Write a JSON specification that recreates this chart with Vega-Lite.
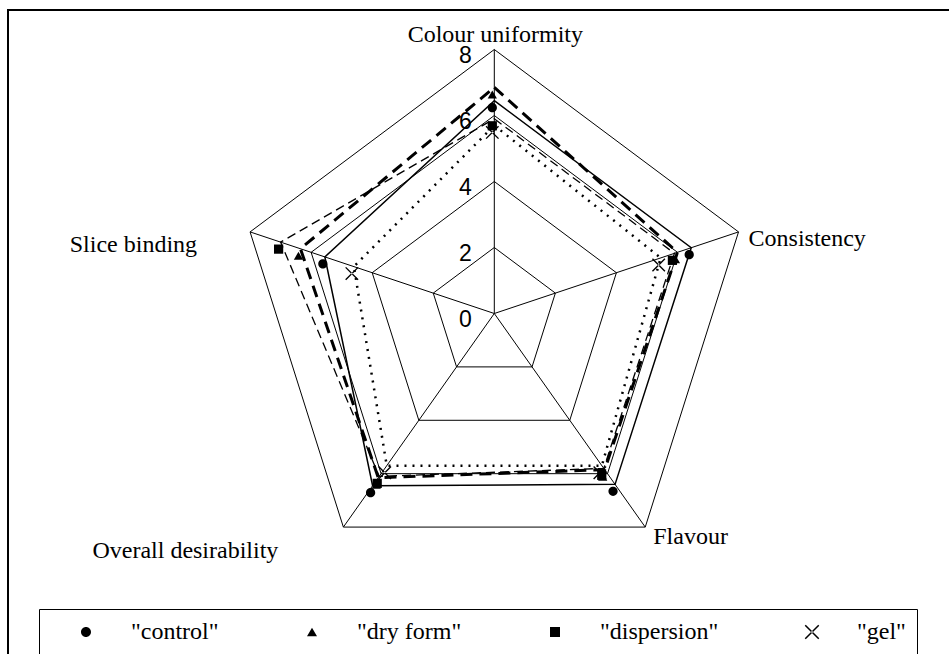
{
  "$schema": "https://vega.github.io/schema/vega-lite/v6.json",
  "width": 960,
  "height": 660,
  "autosize": {"type": "none"},
  "padding": {"left": 8, "top": 10, "right": -19, "bottom": -16},
  "background": "white",
  "config": {"view": {"stroke": "black", "strokeWidth": 2}},
  "datasets": {
    "axes": [
      {"axis": "Colour uniformity", "order": 0},
      {"axis": "Consistency", "order": 1},
      {"axis": "Flavour", "order": 2},
      {"axis": "Overall desirability", "order": 3},
      {"axis": "Slice binding", "order": 4}
    ],
    "rings": [
      {"level": 2, "axis": "Colour uniformity"}, {"level": 2, "axis": "Consistency"}, {"level": 2, "axis": "Flavour"}, {"level": 2, "axis": "Overall desirability"}, {"level": 2, "axis": "Slice binding"},
      {"level": 4, "axis": "Colour uniformity"}, {"level": 4, "axis": "Consistency"}, {"level": 4, "axis": "Flavour"}, {"level": 4, "axis": "Overall desirability"}, {"level": 4, "axis": "Slice binding"},
      {"level": 6, "axis": "Colour uniformity"}, {"level": 6, "axis": "Consistency"}, {"level": 6, "axis": "Flavour"}, {"level": 6, "axis": "Overall desirability"}, {"level": 6, "axis": "Slice binding"},
      {"level": 8, "axis": "Colour uniformity"}, {"level": 8, "axis": "Consistency"}, {"level": 8, "axis": "Flavour"}, {"level": 8, "axis": "Overall desirability"}, {"level": 8, "axis": "Slice binding"}
    ],
    "scalevals": [{"level": 0}, {"level": 2}, {"level": 4}, {"level": 6}, {"level": 8}],
    "scores": [
      {"series": "control", "axis": "Colour uniformity", "value": 6.45},
      {"series": "control", "axis": "Consistency", "value": 6.45},
      {"series": "control", "axis": "Flavour", "value": 6.4},
      {"series": "control", "axis": "Overall desirability", "value": 6.45},
      {"series": "control", "axis": "Slice binding", "value": 5.55},
      {"series": "dry form", "axis": "Colour uniformity", "value": 6.85},
      {"series": "dry form", "axis": "Consistency", "value": 6.0},
      {"series": "dry form", "axis": "Flavour", "value": 5.85},
      {"series": "dry form", "axis": "Overall desirability", "value": 6.15},
      {"series": "dry form", "axis": "Slice binding", "value": 6.35},
      {"series": "dispersion", "axis": "Colour uniformity", "value": 5.9},
      {"series": "dispersion", "axis": "Consistency", "value": 5.9},
      {"series": "dispersion", "axis": "Flavour", "value": 5.8},
      {"series": "dispersion", "axis": "Overall desirability", "value": 6.1},
      {"series": "dispersion", "axis": "Slice binding", "value": 7.0},
      {"series": "gel", "axis": "Colour uniformity", "value": 5.7},
      {"series": "gel", "axis": "Consistency", "value": 5.45},
      {"series": "gel", "axis": "Flavour", "value": 5.7},
      {"series": "gel", "axis": "Overall desirability", "value": 5.7},
      {"series": "gel", "axis": "Slice binding", "value": 4.6}
    ]
  },
  "encoding": {
    "x": {"field": "px", "type": "quantitative", "scale": {"domain": [-15.15, 14.757], "nice": false, "zero": false}, "axis": null},
    "y": {"field": "py", "type": "quantitative", "scale": {"domain": [-10.803, 9.197], "nice": false, "zero": false}, "axis": null}
  },
  "layer": [
    {
      "data": {"name": "rings"},
      "transform": [
        {"lookup": "axis", "from": {"data": {"name": "axes"}, "key": "axis", "fields": ["order"]}},
        {"calculate": "datum.level*sin(datum.order*2*PI/5)", "as": "px"},
        {"calculate": "datum.level*cos(datum.order*2*PI/5)", "as": "py"}
      ],
      "mark": {"type": "line", "interpolate": "linear-closed", "color": "black", "strokeWidth": 1},
      "encoding": {"detail": {"field": "level"}, "order": {"field": "order"}}
    },
    {
      "data": {"name": "axes"},
      "transform": [
        {"calculate": "8*sin(datum.order*2*PI/5)", "as": "px"},
        {"calculate": "8*cos(datum.order*2*PI/5)", "as": "py"}
      ],
      "mark": {"type": "rule", "color": "black", "strokeWidth": 1},
      "encoding": {
        "x2": {"datum": 0},
        "y2": {"datum": 0}
      }
    },
    {
      "data": {"name": "scalevals"},
      "transform": [
        {"calculate": "0", "as": "px"},
        {"calculate": "datum.level", "as": "py"},
        {"calculate": "format(datum.level, 'd')", "as": "lab"}
      ],
      "mark": {"type": "text", "font": "Liberation Sans", "fontSize": 23, "color": "black", "align": "center", "baseline": "middle", "dx": -29, "dy": 6},
      "encoding": {
        "text": {"field": "lab", "type": "nominal"}
      }
    },
    {
      "data": {"name": "scores"},
      "transform": [
        {"lookup": "axis", "from": {"data": {"name": "axes"}, "key": "axis", "fields": ["order"]}},
        {"calculate": "datum.value*sin(datum.order*2*PI/5)", "as": "px"},
        {"calculate": "datum.value*cos(datum.order*2*PI/5)", "as": "py"}
      ],
      "layer": [
        {
          "transform": [{"filter": "datum.series == 'control'"}],
          "mark": {"type": "line", "interpolate": "linear-closed", "color": "black", "strokeWidth": 1.5},
          "encoding": {"order": {"field": "order"}}
        },
        {
          "transform": [{"filter": "datum.series == 'dry form'"}],
          "mark": {"type": "line", "interpolate": "linear-closed", "color": "black", "strokeWidth": 3, "strokeDash": [12, 7]},
          "encoding": {"order": {"field": "order"}}
        },
        {
          "transform": [{"filter": "datum.series == 'dispersion'"}],
          "mark": {"type": "line", "interpolate": "linear-closed", "color": "black", "strokeWidth": 1.3, "strokeDash": [9, 5]},
          "encoding": {"order": {"field": "order"}}
        },
        {
          "transform": [{"filter": "datum.series == 'gel'"}],
          "mark": {"type": "line", "interpolate": "linear-closed", "color": "black", "strokeWidth": 2.5, "strokeDash": [2, 6]},
          "encoding": {"order": {"field": "order"}}
        },
        {
          "mark": {"type": "point", "filled": true, "color": "black", "size": 85, "opacity": 1, "xOffset": -2, "yOffset": 7},
          "encoding": {
            "shape": {
              "field": "series", "type": "nominal",
              "scale": {"domain": ["control", "dry form", "dispersion", "gel"], "range": [
                "M-7.6,0L7.6,0M1,0A1,1,0,1,1,-1,0A1,1,0,1,1,1,0Z",
                "triangle-up",
                "square",
                "M-1.244,-1.456L1.456,1.244L1.244,1.456L-1.456,-1.244ZM-1.244,1.456L1.456,-1.244L1.244,-1.456L-1.456,1.244Z"
              ]},
              "legend": {
                "orient": "none", "legendX": 31, "legendY": 599, "direction": "horizontal", "title": null,
                "labelFont": "Liberation Serif", "labelFontSize": 24, "labelColor": "black", "labelLimit": 0,
                "labelExpr": "'\"' + datum.label + '\"'",
                "symbolSize": 100, "symbolFillColor": "black", "symbolStrokeColor": "black", "symbolStrokeWidth": 1.5,
                "symbolOffset": 24,
                "labelOffset": 33, "columnPadding": 57, "padding": 11,
                "strokeColor": "black",
                "encode": {"symbols": {"update": {"stroke": {"value": "black"}, "strokeWidth": {"value": 1.5}}}}
              }
            }
          }
        }
      ]
    },
    {
      "data": {"name": "axes"},
      "transform": [
        {"calculate": "8*sin(datum.order*2*PI/5)", "as": "px"},
        {"calculate": "8*cos(datum.order*2*PI/5)", "as": "py"}
      ],
      "layer": [
        {
          "transform": [{"filter": "datum.axis == 'Colour uniformity'"}],
          "mark": {"type": "text", "font": "Liberation Serif", "fontSize": 24, "color": "black", "align": "center", "baseline": "alphabetic", "dx": 1, "dy": -8},
          "encoding": {"text": {"field": "axis"}}
        },
        {
          "transform": [{"filter": "datum.axis == 'Consistency'"}],
          "mark": {"type": "text", "font": "Liberation Serif", "fontSize": 24, "color": "black", "align": "left", "baseline": "alphabetic", "dx": 10, "dy": 14},
          "encoding": {"text": {"field": "axis"}}
        },
        {
          "transform": [{"filter": "datum.axis == 'Flavour'"}],
          "mark": {"type": "text", "font": "Liberation Serif", "fontSize": 24, "color": "black", "align": "left", "baseline": "alphabetic", "dx": 8, "dy": 17},
          "encoding": {"text": {"field": "axis"}}
        },
        {
          "transform": [{"filter": "datum.axis == 'Overall desirability'"}],
          "mark": {"type": "text", "font": "Liberation Serif", "fontSize": 24, "color": "black", "align": "right", "baseline": "alphabetic", "dx": -65, "dy": 31},
          "encoding": {"text": {"field": "axis"}}
        },
        {
          "transform": [{"filter": "datum.axis == 'Slice binding'"}],
          "mark": {"type": "text", "font": "Liberation Serif", "fontSize": 24, "color": "black", "align": "right", "baseline": "alphabetic", "dx": -53, "dy": 20},
          "encoding": {"text": {"field": "axis"}}
        }
      ]
    }
  ]
}
